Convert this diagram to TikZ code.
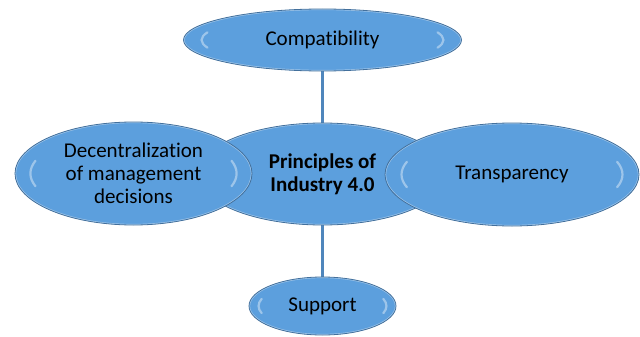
\documentclass[tikz,border=0pt]{standalone}
\usepackage{fontspec}
\setmainfont[Ligatures=NoCommon]{Carlito}
\usetikzlibrary{shapes.geometric,backgrounds,calc}

\definecolor{bubbleFill}{HTML}{5C9FDD}
\definecolor{bubbleEdge}{HTML}{43709C}
\definecolor{bubbleRim}{HTML}{4B88C4}
\definecolor{linkBlue}{HTML}{4F86BC}

\tikzset{
  bubble/.style={
    ellipse, inner sep=0pt, align=center,
    fill=bubbleFill, draw=bubbleEdge, line width=0.8pt,
    font=\fontsize{21.1pt}{23.2pt}\selectfont,
    path picture={
      \path let \p1=(path picture bounding box.north east),
                \p2=(path picture bounding box.center),
                \n1={\x1-\x2}, \n2={\y1-\y2} in
        % slightly darker rim along the border
        [draw=bubbleRim, line width=7pt, opacity=0.45]
          (\p2) ellipse ({\n1} and {\n2})
        % glossy highlights at both ends
        [draw=white, line width=2.2pt, opacity=0.4, line cap=round]
          ($(\p2)+({0.87*\n1*cos(162)},{0.8*\n2*sin(162)})$)
            arc[start angle=162, end angle=198,
                x radius={0.87*\n1}, y radius={0.8*\n2}]
          ($(\p2)+({0.87*\n1*cos(-18)},{0.8*\n2*sin(-18)})$)
            arc[start angle=-18, end angle=18,
                x radius={0.87*\n1}, y radius={0.8*\n2}];
    }
  },
  link/.style={draw=linkBlue, line width=3.5pt}
}

\begin{document}
\begin{tikzpicture}[x=1bp, y=1bp]
  \useasboundingbox (0,0) rectangle (640,336);

  \node[bubble, minimum width=278bp, minimum height=62bp]  (comp)    at (322.5,296)   {Compatibility};
  \node[bubble, minimum width=147bp, minimum height=58bp]  (support) at (322.5,30)    {Support};
  \node[bubble, minimum width=250bp, minimum height=102bp] (core)    at (322.5,162)   {\bfseries Principles of\\\bfseries Industry 4.0};
  \node[bubble, minimum width=237bp, minimum height=103bp] (decent)  at (133.5,162.5) {Decentralization\\of management\\decisions};
  \node[bubble, minimum width=254bp, minimum height=103bp] (transp)  at (512,161.5)   {Transparency};

  \begin{scope}[on background layer]
    \draw[link] (comp.south) -- (core.north);
    \draw[link] (core.south) -- (support.north);
  \end{scope}
\end{tikzpicture}
\end{document}
